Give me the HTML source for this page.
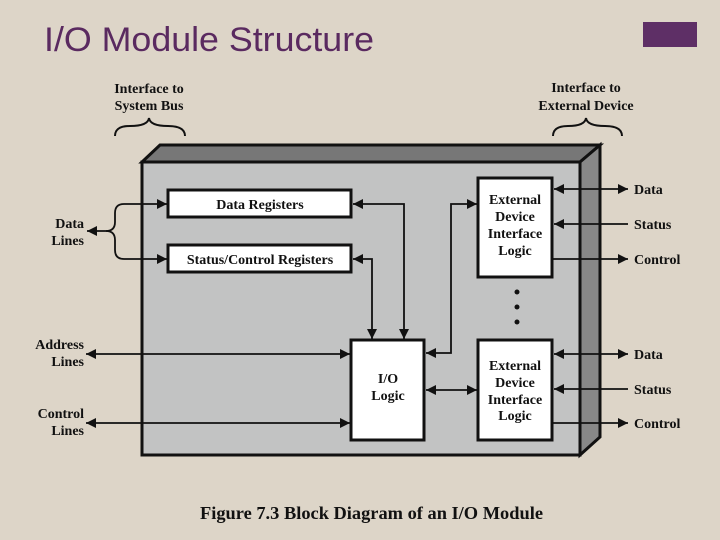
<!DOCTYPE html>
<html><head><meta charset="utf-8"><style>
html,body{margin:0;padding:0;width:720px;height:540px;overflow:hidden;background:#ddd5c8;}
svg{display:block}
.t{font-family:"Liberation Serif",serif;font-weight:bold;font-size:14px;fill:#111}
</style></head><body>
<svg width="720" height="540" viewBox="0 0 720 540" xmlns="http://www.w3.org/2000/svg">
<defs>
<marker id="a" viewBox="0 0 10 10" refX="10" refY="5" markerWidth="10" markerHeight="10" markerUnits="userSpaceOnUse" orient="auto-start-reverse"><path d="M0,0 L10,5 L0,10 Z" fill="#111"/></marker>
</defs>
<rect width="720" height="540" fill="#ddd5c8"/>
<text x="44" y="51" font-family="Liberation Sans,sans-serif" font-size="34" fill="#5a2a60" textLength="330" lengthAdjust="spacingAndGlyphs">I/O Module Structure</text>
<rect x="643" y="22" width="54" height="25" fill="#5e2f66"/>
<text class="t" x="149" y="93" text-anchor="middle">Interface to</text>
<text class="t" x="149" y="110" text-anchor="middle">System Bus</text>
<text class="t" x="586" y="92" text-anchor="middle">Interface to</text>
<text class="t" x="586" y="110" text-anchor="middle">External Device</text>
<path d="M115,136 Q115,126 130,126 Q148,126 149,118 Q150,126 168,126 Q185,126 185,136" fill="none" stroke="#111" stroke-width="2"/>
<path d="M553,136 Q553,126 568,126 Q585,126 586,118 Q587,126 605,126 Q622,126 622,136" fill="none" stroke="#111" stroke-width="2"/>
<polygon points="142,162 160,145 600,145 580,162" fill="#777" stroke="#111" stroke-width="3"/>
<polygon points="580,162 600,145 600,437 580,455" fill="#888" stroke="#111" stroke-width="3"/>
<rect x="142" y="162" width="438" height="293" fill="#c2c3c3" stroke="#111" stroke-width="3"/>
<rect x="168" y="190" width="183" height="27" fill="#fff" stroke="#111" stroke-width="3"/>
<text class="t" x="260" y="209" text-anchor="middle">Data Registers</text>
<rect x="168" y="245" width="183" height="27" fill="#fff" stroke="#111" stroke-width="3"/>
<text class="t" x="260" y="264" text-anchor="middle">Status/Control Registers</text>
<rect x="351" y="340" width="73" height="100" fill="#fff" stroke="#111" stroke-width="3"/>
<text class="t" x="388" y="383" text-anchor="middle">I/O</text>
<text class="t" x="388" y="400" text-anchor="middle">Logic</text>
<rect x="478" y="178" width="74" height="99" fill="#fff" stroke="#111" stroke-width="3"/>
<text class="t" x="515" y="204" text-anchor="middle">External</text>
<text class="t" x="515" y="221" text-anchor="middle">Device</text>
<text class="t" x="515" y="238" text-anchor="middle">Interface</text>
<text class="t" x="515" y="255" text-anchor="middle">Logic</text>
<rect x="478" y="340" width="74" height="100" fill="#fff" stroke="#111" stroke-width="3"/>
<text class="t" x="515" y="370" text-anchor="middle">External</text>
<text class="t" x="515" y="387" text-anchor="middle">Device</text>
<text class="t" x="515" y="404" text-anchor="middle">Interface</text>
<text class="t" x="515" y="420" text-anchor="middle">Logic</text>
<circle cx="517" cy="292" r="2.5" fill="#111"/><circle cx="517" cy="307" r="2.5" fill="#111"/><circle cx="517" cy="322" r="2.5" fill="#111"/>
<g fill="none" stroke="#111" stroke-width="1.8">
<path d="M353,204 H404 V339" marker-start="url(#a)" marker-end="url(#a)"/>
<path d="M353,259 H372 V339" marker-start="url(#a)" marker-end="url(#a)"/>
<path d="M426,353 H451 V204 H477" marker-start="url(#a)" marker-end="url(#a)"/>
<path d="M426,390 H477" marker-start="url(#a)" marker-end="url(#a)"/>
<path d="M86,354 H350" marker-start="url(#a)" marker-end="url(#a)"/>
<path d="M86,423 H350" marker-start="url(#a)" marker-end="url(#a)"/>
<path d="M87,231 H106 Q115,231 115,222 V213 Q115,204 124,204 H167" marker-start="url(#a)" marker-end="url(#a)"/>
<path d="M106,231 Q115,231 115,240 V250 Q115,259 124,259 H167" marker-end="url(#a)"/>
<path d="M554,189 H628" marker-start="url(#a)" marker-end="url(#a)"/>
<path d="M628,224 H554" marker-end="url(#a)"/>
<path d="M552,259 H628" marker-end="url(#a)"/>
<path d="M554,354 H628" marker-start="url(#a)" marker-end="url(#a)"/>
<path d="M628,389 H554" marker-end="url(#a)"/>
<path d="M552,423 H628" marker-end="url(#a)"/>
</g>
<text class="t" x="634" y="194">Data</text>
<text class="t" x="634" y="229">Status</text>
<text class="t" x="634" y="264">Control</text>
<text class="t" x="634" y="359">Data</text>
<text class="t" x="634" y="394">Status</text>
<text class="t" x="634" y="428">Control</text>
<text class="t" x="84" y="228" text-anchor="end">Data</text>
<text class="t" x="84" y="245" text-anchor="end">Lines</text>
<text class="t" x="84" y="349" text-anchor="end">Address</text>
<text class="t" x="84" y="366" text-anchor="end">Lines</text>
<text class="t" x="84" y="418" text-anchor="end">Control</text>
<text class="t" x="84" y="435" text-anchor="end">Lines</text>
<text x="200" y="519" font-family="Liberation Serif,serif" font-weight="bold" font-size="18" fill="#111" textLength="343" lengthAdjust="spacingAndGlyphs">Figure 7.3  Block Diagram of an I/O Module</text>
</svg>
</body></html>
